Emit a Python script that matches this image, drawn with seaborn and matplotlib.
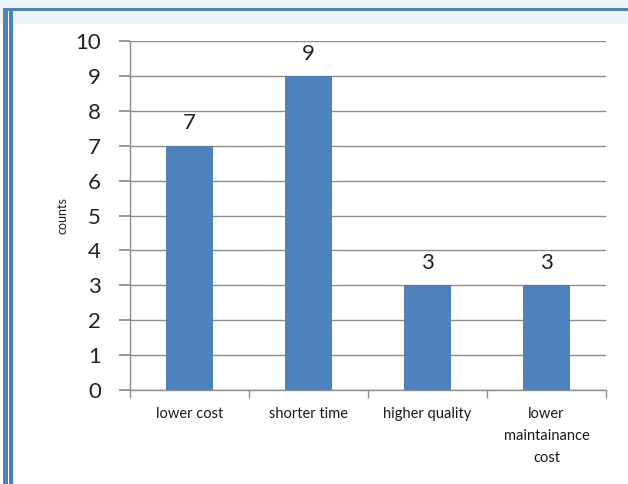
import matplotlib
matplotlib.use("Agg")
import matplotlib.pyplot as plt
import seaborn as sns
import pandas as pd
from matplotlib.patches import Rectangle
from matplotlib.ticker import FixedLocator

categories = ["lower cost", "shorter time", "higher quality", "lower\nmaintainance\ncost"]
counts = [7, 9, 3, 3]
yticks = list(range(0, 11))

sns.set_theme(style="white")
plt.rcParams['font.family'] = ['Lato', 'DejaVu Sans']

df = pd.DataFrame({"category": categories, "counts": counts})

fig = plt.figure(figsize=(6.28, 4.84), dpi=100)
fig.patch.set_facecolor("white")
ax = fig.add_axes([130/628, 1-390/484, 476/628, 349/484])

sns.barplot(data=df, x="category", y="counts", color="#4F81BD", saturation=1,
            width=0.4, ax=ax, zorder=3, linewidth=0)

ax.set_ylim(0, 10)
ax.set_xlim(-0.5, len(categories) - 0.5)
ax.set_yticks(yticks)
ax.yaxis.grid(True, color="#8c8c8c", linewidth=1, zorder=0)
ax.set_axisbelow(True)
for s in ["top", "right"]:
    ax.spines[s].set_visible(False)
for s in ["left", "bottom"]:
    ax.spines[s].set_color("#8c8c8c")
    ax.spines[s].set_linewidth(1)
ax.tick_params(axis="y", which="major", left=True, length=8, color="#8c8c8c",
               labelsize=16, labelcolor="#222222", pad=13)
ax.tick_params(axis="x", which="major", bottom=False, labelsize=10.5,
               labelcolor="#1a1a1a", pad=6)
for lbl in ax.get_xticklabels():
    lbl.set_linespacing(1.75)
ax.xaxis.set_minor_locator(FixedLocator([i - 0.5 for i in range(len(categories) + 1)]))
ax.tick_params(axis="x", which="minor", bottom=True, length=6, color="#8c8c8c")
ax.set_xlabel("")
ax.set_ylabel("counts", fontsize=9, color="#1a1a1a", labelpad=5)

for i, v in enumerate(counts):
    ax.text(i, v + 0.35, str(v), ha="center", va="bottom", fontsize=16, color="#222222")

# frame decoration
fig.patches.append(Rectangle((0, 1 - 24/484), 1, 24/484, transform=fig.transFigure,
                             facecolor="#eef3fb", edgecolor="none", zorder=0))
fig.patches.append(Rectangle((4/628, 1 - 11/484), 624/628, 3/484, transform=fig.transFigure,
                             facecolor="#4F81BD", edgecolor="none"))
fig.patches.append(Rectangle((3/628, 0), 5/628, 1 - 8/484, transform=fig.transFigure,
                             facecolor="#4F81BD", edgecolor="none"))
fig.patches.append(Rectangle((9/628, 0), 4/628, 1 - 8/484, transform=fig.transFigure,
                             facecolor="#4F81BD", edgecolor="none"))

fig.savefig("out.png", dpi=100, facecolor="white")
